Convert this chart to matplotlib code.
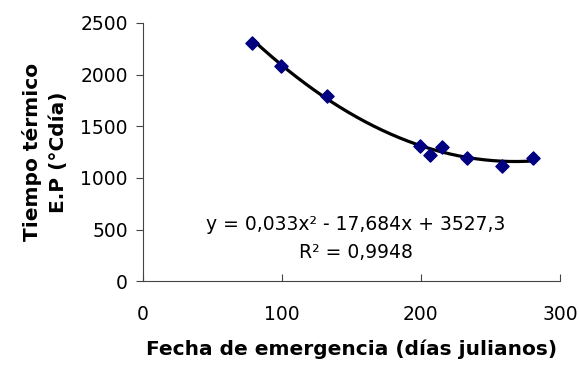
import numpy as np
import matplotlib
matplotlib.use("Agg")
import matplotlib.pyplot as plt

plt.rcParams['font.family'] = ['DejaVu Sans']

# datos
fecha = [78.5, 99.6, 132.3, 199.2, 206.4, 215.3, 233.5, 258.0, 280.8]
tiempo = [2306, 2081, 1790, 1309, 1226, 1300, 1190, 1113, 1197]
# coeficientes de la línea de tendencia (ecuación del gráfico)
coef = [0.033, -17.684, 3527.3]

fig = plt.figure(figsize=(5.79, 3.69), dpi=100)
ax = fig.add_axes([0.247, 0.238, 0.72, 0.7])

xs = np.linspace(min(fecha), max(fecha), 200)
ax.plot(xs, np.polyval(coef, xs), color='black', linewidth=2.3, zorder=2)
ax.scatter(fecha, tiempo, marker='D', s=45, color='#000080', zorder=3)

ax.set_xlim(0, 300)
ax.set_ylim(0, 2500)
ax.set_xticks([0, 100, 200, 300])
ax.set_yticks(range(0, 2501, 500))
ax.tick_params(axis='both', labelsize=13.5, length=5, color='#444444')
ax.tick_params(axis='x', direction='in', pad=17)
ax.tick_params(axis='y', pad=6)
for s in ['top', 'right']:
    ax.spines[s].set_visible(False)
for s in ['left', 'bottom']:
    ax.spines[s].set_color('#444444')

ax.set_xlabel("Fecha de emergencia (días julianos)", fontsize=14.5,
              fontweight='bold', labelpad=11)
ax.set_ylabel("Tiempo térmico\nE.P (°Cdía)", fontsize=14.5,
              fontweight='bold', labelpad=9, linespacing=1.45)

ax.text(0.51, 0.22, "y = 0,033x² - 17,684x + 3527,3", transform=ax.transAxes,
        ha='center', va='center', fontsize=13.5)
ax.text(0.51, 0.11, "R² = 0,9948", transform=ax.transAxes,
        ha='center', va='center', fontsize=13.5)

fig.savefig("out.png", dpi=100)
